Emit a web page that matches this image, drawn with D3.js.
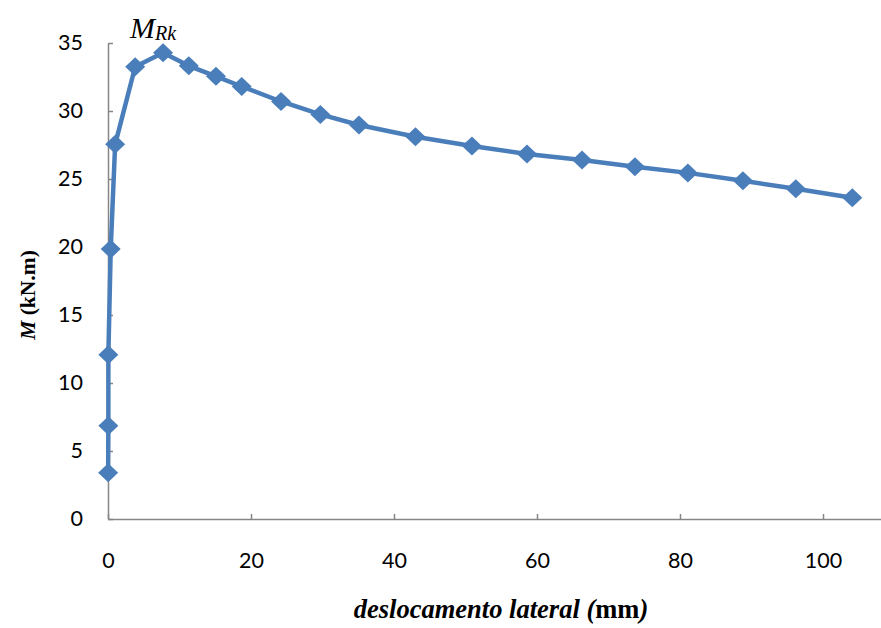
<!DOCTYPE html>
<html><head><meta charset="utf-8">
<script src="https://cdn.jsdelivr.net/npm/d3@7"></script>
<style>html,body{margin:0;padding:0;background:#fff;}svg{display:block;}</style>
</head><body>
<svg id="chart" width="881" height="628"></svg>
<script>
const displacement = [0.02, 0.05, 0.05, 0.38, 1.0, 3.8, 7.7, 11.3, 15.1, 18.7, 24.2, 29.7, 35.1, 43.0, 50.9, 58.6, 66.3, 73.7, 81.1, 88.8, 96.2, 104.1];
const moment = [3.4, 6.85, 12.08, 19.85, 27.55, 33.25, 34.28, 33.32, 32.55, 31.8, 30.7, 29.75, 28.97, 28.11, 27.43, 26.84, 26.4, 25.9, 25.45, 24.87, 24.28, 23.62];
const xTicks = [0, 20, 40, 60, 80, 100];
const yTicks = [0, 5, 10, 15, 20, 25, 30, 35];
const xLabel = ["deslocamento lateral (", "mm", ")"];
const yLabel = ["M", " (kN.m)"];
const peakLabel = ["M", "Rk"];

const svg = d3.select("#chart");
const x = d3.scaleLinear().domain([0, 110]).range([108, 894.5]);
const y = d3.scaleLinear().domain([0, 35]).range([519, 43]);
const axisColor = "#868686";
const tickFont = "Lato, 'Open Sans', sans-serif";

// x axis
const gx = svg.append("g").attr("transform", `translate(0,${y(0)})`)
  .call(d3.axisBottom(x).tickValues(xTicks).tickSizeInner(-5).tickSizeOuter(0).tickPadding(34));
gx.select(".domain").attr("stroke", axisColor).attr("stroke-width", 1.5);
gx.selectAll(".tick line").attr("stroke", axisColor).attr("stroke-width", 1.5);
gx.selectAll(".tick text").attr("font-family", tickFont).attr("font-size", 21.5).attr("fill", "#000");

// y axis
const gy = svg.append("g").attr("transform", `translate(${x(0)},0)`)
  .call(d3.axisLeft(y).tickValues(yTicks).tickSizeInner(-5).tickSizeOuter(0).tickPadding(25));
gy.select(".domain").attr("stroke", axisColor).attr("stroke-width", 1.5);
gy.selectAll(".tick line").attr("stroke", axisColor).attr("stroke-width", 1.5);
gy.selectAll(".tick text").attr("font-family", tickFont).attr("font-size", 21.5).attr("fill", "#000");

const pts = displacement.map((d, i) => [d, moment[i]]);
const color = "#4A7EBB";
svg.append("path").datum(pts)
  .attr("fill", "none").attr("stroke", color).attr("stroke-width", 4.5).attr("stroke-linejoin", "round")
  .attr("d", d3.line().x(d => x(d[0])).y(d => y(d[1])));

svg.append("g").selectAll("path").data(pts).join("path")
  .attr("transform", d => `translate(${x(d[0])},${y(d[1])})`)
  .attr("d", "M0,-9.5L10,0L0,9.5L-10,0Z")
  .attr("fill", color);

// x label
const xl = svg.append("text").attr("x", 501).attr("y", 618).attr("text-anchor", "middle")
  .attr("font-family", "'Liberation Serif', 'Times New Roman', serif").attr("font-size", 26.5).attr("font-weight", "bold").attr("fill", "#000");
xl.append("tspan").attr("font-style", "italic").text(xLabel[0]);
xl.append("tspan").text(xLabel[1]);
xl.append("tspan").attr("font-style", "italic").text(xLabel[2]);

// y label
const yl = svg.append("text").attr("transform", "translate(35,295) rotate(-90)").attr("text-anchor", "middle")
  .attr("font-family", "'Liberation Serif', 'Times New Roman', serif").attr("font-size", 21.5).attr("font-weight", "bold").attr("fill", "#000");
yl.append("tspan").attr("font-style", "italic").text(yLabel[0]);
yl.append("tspan").text(yLabel[1]);

// peak label
const pl = svg.append("text").attr("x", 130).attr("y", 38)
  .attr("font-family", "'Liberation Serif', 'Times New Roman', serif").attr("font-style", "italic").attr("fill", "#000");
pl.append("tspan").attr("font-size", 30).text(peakLabel[0]);
pl.append("tspan").attr("font-size", 20).attr("dy", 2).text(peakLabel[1]);
</script>
</body></html>
